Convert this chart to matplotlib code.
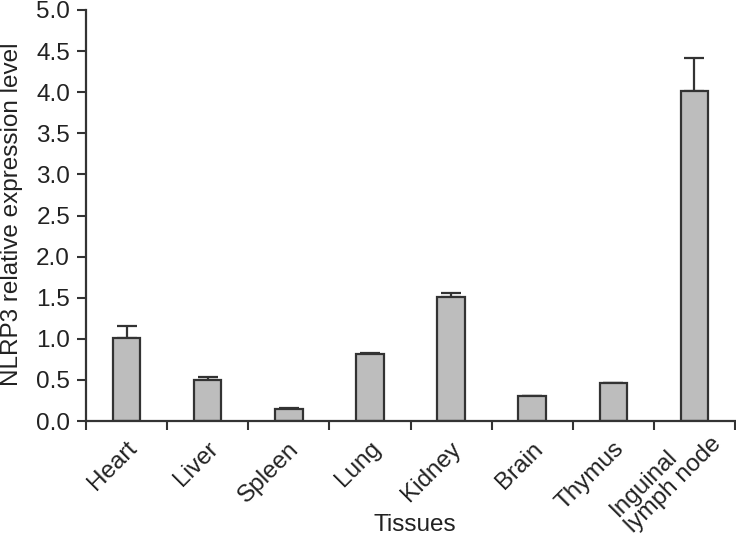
import matplotlib
matplotlib.use("Agg")
import matplotlib.pyplot as plt
import matplotlib.transforms as mtransforms
import numpy as np

categories = ["Heart", "Liver", "Spleen", "Lung", "Kidney", "Brain", "Thymus", "Inguinal\nlymph node"]
values = [1.01, 0.50, 0.145, 0.815, 1.51, 0.30, 0.46, 4.01]
errors = [0.14, 0.03, 0.012, 0.01, 0.05, 0.0, 0.0, 0.41]
yticks = [0.0, 0.5, 1.0, 1.5, 2.0, 2.5, 3.0, 3.5, 4.0, 4.5, 5.0]

plt.rcParams['font.family'] = ['Liberation Sans', 'DejaVu Sans']
FS = 17.5
TXT = "#222222"
LC = "#333333"

fig = plt.figure(figsize=(7.36, 5.37), dpi=100)
ax = fig.add_axes([86/736, 1-421/537, 649/736, 411/537])

x = np.arange(len(categories))
ax.bar(x, values, width=0.34, color="#bdbdbd", edgecolor=LC, linewidth=1.6, zorder=2)
ax.errorbar(x, values, yerr=[np.zeros(len(errors)), errors], fmt="none",
            ecolor=LC, elinewidth=1.6, capsize=7, capthick=1.6, zorder=1)

ax.set_xlim(-0.5, len(categories) - 0.5)
ax.set_ylim(0, 5.0)
ax.set_yticks(yticks)
ax.set_yticklabels([f"{t:.1f}" for t in yticks], fontsize=FS, color=TXT)
ax.set_xticks(x)
ax.set_xticklabels(categories, rotation=45, ha="right", va="center", rotation_mode="anchor",
                   fontsize=FS, color=TXT, linespacing=1.0, multialignment="left")
ax.tick_params(axis="x", length=0, pad=14)
ax.set_xticks(np.arange(len(categories) + 1) - 0.5, minor=True)
ax.tick_params(axis="x", which="minor", length=6.5, width=1.5, color=LC)
ax.tick_params(axis="y", length=6.5, width=1.5, color=LC, pad=5)

labels = ax.get_xticklabels()
for i, lbl in enumerate(labels):
    if i == len(labels) - 1:
        off = mtransforms.ScaledTranslation(0.16, 0.08, fig.dpi_scale_trans)
    else:
        off = mtransforms.ScaledTranslation(0.07, -0.05, fig.dpi_scale_trans)
    lbl.set_transform(lbl.get_transform() + off)

for s in ["top", "right"]:
    ax.spines[s].set_visible(False)
for s in ["left", "bottom"]:
    ax.spines[s].set_linewidth(1.6)
    ax.spines[s].set_color(LC)

fig.text(1/736, 1 - 214/537, "NLRP3 relative expression level", rotation=90,
         ha="left", va="center", fontsize=FS, color=TXT)
fig.text(415/736, 6/537, "Tissues", ha="center", va="baseline", fontsize=FS, color=TXT)

fig.savefig("out.png", dpi=100)
